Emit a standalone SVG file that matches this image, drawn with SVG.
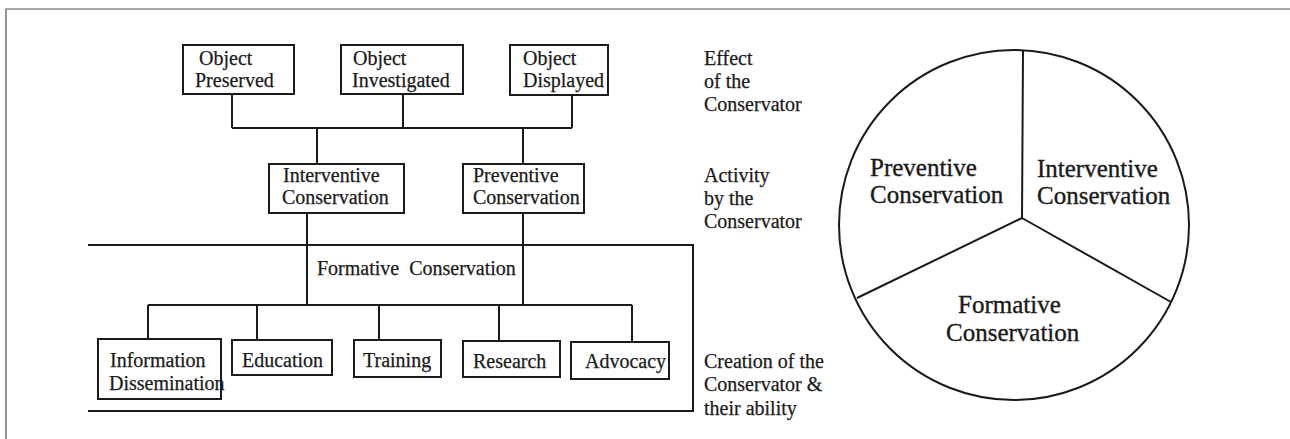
<svg xmlns="http://www.w3.org/2000/svg" width="1290" height="439" viewBox="0 0 1290 439">
<style>
text{font-family:"Liberation Serif","Times New Roman",serif;font-size:20px;fill:#1a1a1a;stroke:#1a1a1a;stroke-width:0.25}
.box{fill:#fff;stroke:#1a1a1a;stroke-width:2}
.ln{fill:none;stroke:#1a1a1a;stroke-width:2}
.pie{font-size:25px;stroke-width:0.35}
</style>
<rect width="1290" height="439" fill="#fff"/>
<path d="M6,439 V9 H1290" fill="none" stroke="#555" stroke-width="1.2"/>
<g id="connectors" class="ln">
<path d="M232,94 V128 M403,94 V128 M572,95 V128 M232,128 H572 M317,128 V164 M523,128 V164"/>
<path d="M307,213 V305 M523,213 V305 M148,305 H632 M148,305 V339 M257,305 V340 M379,305 V340 M499,305 V341 M632,305 V342"/>
</g>
<g id="formative-frame">
<path class="ln" d="M88,245 H693 V411 H88"/>
<text x="317" y="275" word-spacing="5">Formative Conservation</text>
</g>
<g id="object-preserved"><rect class="box" x="183" y="45" width="111" height="49"/><text x="199" y="65">Object</text><text x="195" y="87">Preserved</text></g>
<g id="object-investigated"><rect class="box" x="341" y="45" width="122" height="49"/><text x="353" y="65">Object</text><text x="352" y="87">Investigated</text></g>
<g id="object-displayed"><rect class="box" x="510" y="45" width="98" height="50"/><text x="523" y="65">Object</text><text x="523" y="87">Displayed</text></g>
<g id="interventive"><rect class="box" x="269" y="164" width="135" height="49"/><text x="283" y="182">Interventive</text><text x="282" y="204">Conservation</text></g>
<g id="preventive"><rect class="box" x="463" y="164" width="121" height="49"/><text x="473" y="182">Preventive</text><text x="473" y="204">Conservation</text></g>
<g id="information"><rect class="box" x="98" y="339" width="123" height="60"/><text x="110" y="367">Information</text><text x="109" y="390">Dissemination</text></g>
<g id="education"><rect class="box" x="232" y="340" width="100" height="35"/><text x="242" y="367">Education</text></g>
<g id="training"><rect class="box" x="354" y="340" width="87" height="37"/><text x="363" y="367">Training</text></g>
<g id="research"><rect class="box" x="463" y="341" width="97" height="36"/><text x="473" y="368">Research</text></g>
<g id="advocacy"><rect class="box" x="571" y="342" width="98" height="37"/><text x="585" y="368">Advocacy</text></g>
<g id="labels">
<text x="704" y="65">Effect</text><text x="704" y="88">of the</text><text x="704" y="111">Conservator</text>
<text x="704" y="182">Activity</text><text x="704" y="205">by the</text><text x="704" y="228">Conservator</text>
<text x="704" y="368">Creation of the</text><text x="704" y="391">Conservator &amp;</text><text x="704" y="415">their ability</text>
</g>
<g id="pie">
<circle cx="1014" cy="225" r="175" fill="none" stroke="#1a1a1a" stroke-width="2"/>
<path class="ln" d="M1022,218 L1023,51 M1022,218 L857,298 M1022,218 L1171,302"/>
<text class="pie" x="870" y="176">Preventive</text><text class="pie" x="870" y="203">Conservation</text>
<text class="pie" x="1037" y="177">Interventive</text><text class="pie" x="1037" y="204">Conservation</text>
<text class="pie" x="958" y="313">Formative</text><text class="pie" x="946" y="341">Conservation</text>
</g>
</svg>
